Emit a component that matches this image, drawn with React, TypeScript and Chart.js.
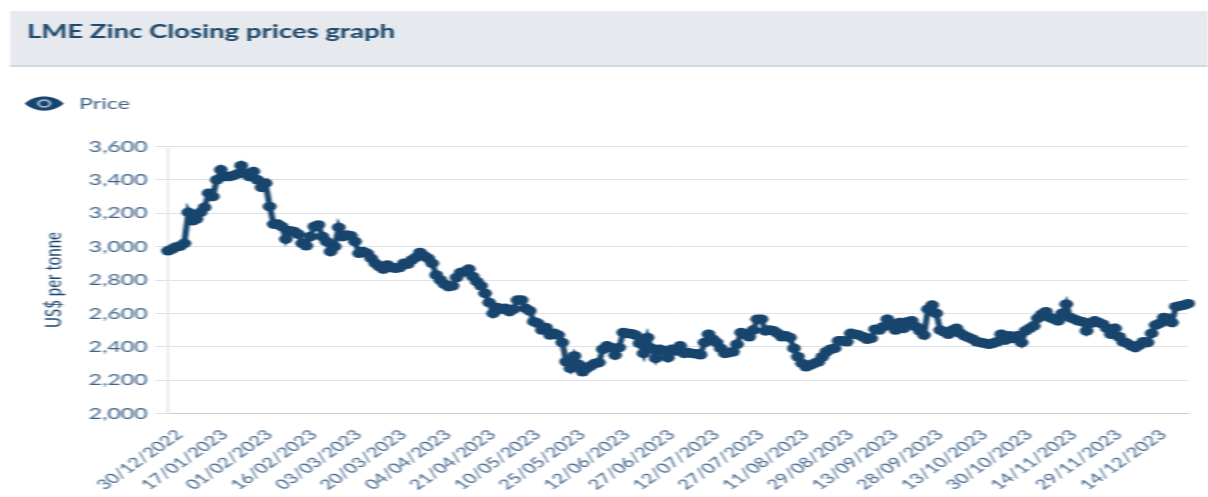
import React, { useEffect, useRef } from "react";
import { Chart, registerables } from "chart.js";

Chart.register(...registerables);

const chartTitle = "LME Zinc Closing prices graph";
const seriesName = "Price";
const yAxisTitle = "US$ per tonne";

const tickLabels = [
  "30/12/2022", "17/01/2023", "01/02/2023", "16/02/2023", "03/03/2023", "20/03/2023",
  "04/04/2023", "21/04/2023", "10/05/2023", "25/05/2023", "12/06/2023", "27/06/2023",
  "12/07/2023", "27/07/2023", "11/08/2023", "29/08/2023", "13/09/2023", "28/09/2023",
  "13/10/2023", "30/10/2023", "14/11/2023", "29/11/2023", "14/12/2023",
];

const prices = [
  2975, 2985, 2998, 3003, 3020, 3205, 3155, 3165, 3205, 3235,
  3320, 3300, 3400, 3460, 3420, 3420, 3425, 3435, 3485, 3440,
  3420, 3450, 3400, 3355, 3380, 3240, 3135, 3135, 3120, 3045,
  3095, 3090, 3075, 3020, 3005, 3060, 3120, 3130, 3060, 3030,
  2970, 3000, 3115, 3060, 3070, 3065, 3030, 2960, 2970, 2960,
  2930, 2900, 2880, 2865, 2890, 2875, 2870, 2875, 2900, 2895,
  2920, 2935, 2965, 2945, 2930, 2900, 2830, 2800, 2775, 2760,
  2765, 2815, 2845, 2850, 2865, 2820, 2790, 2765, 2720, 2665,
  2600, 2635, 2625, 2630, 2610, 2625, 2680, 2680, 2630, 2615,
  2550, 2540, 2500, 2515, 2470, 2480, 2470, 2425, 2310, 2270,
  2345, 2295, 2250, 2270, 2285, 2300, 2305, 2385, 2405, 2395,
  2350, 2395, 2485, 2480, 2478, 2470, 2420, 2360, 2455, 2390,
  2330, 2385, 2375, 2335, 2385, 2375, 2405, 2360, 2365, 2360,
  2358, 2352, 2425, 2475, 2445, 2425, 2390, 2360, 2365, 2370,
  2415, 2485, 2475, 2460, 2500, 2565, 2565, 2495, 2500, 2495,
  2480, 2460, 2465, 2455, 2390, 2340, 2300, 2280, 2290, 2300,
  2310, 2340, 2370, 2385, 2390, 2435, 2435, 2430, 2480, 2475,
  2470, 2460, 2445, 2450, 2505, 2500, 2520, 2565, 2530, 2500,
  2545, 2510, 2550, 2555, 2520, 2495, 2470, 2625, 2650, 2600,
  2500, 2490, 2475, 2500, 2510, 2480, 2465, 2455, 2445, 2430,
  2425, 2420, 2415, 2420, 2430, 2475, 2440, 2465, 2450, 2465,
  2425, 2495, 2510, 2525, 2570, 2595, 2610, 2575, 2565, 2555,
  2600, 2655, 2575, 2565, 2555, 2550, 2495, 2540, 2555, 2545,
  2535, 2510, 2475, 2510, 2460, 2430, 2420, 2405, 2395, 2410,
  2430, 2425, 2480, 2530, 2540, 2575, 2570, 2545, 2640, 2645,
  2650, 2658,
];

const TICK_EVERY = 11;
const categories = prices.map((_, i) => (i % TICK_EVERY === 0 ? tickLabels[i / TICK_EVERY] ?? "" : ""));

const STRETCH = 1208 / 833;
const NAVY = "#17456d";
const TICK_TEXT = "#3f6288";

export default function App() {
  const ref = useRef<HTMLCanvasElement | null>(null);

  useEffect(() => {
    const chart = new Chart(ref.current as HTMLCanvasElement, {
      type: "line",
      data: {
        labels: categories,
        datasets: [
          {
            label: seriesName,
            data: prices,
            borderColor: NAVY,
            backgroundColor: NAVY,
            borderWidth: 4.2,
            pointRadius: 4.8,
            pointBorderWidth: 0,
            tension: 0,
            clip: false,
          },
        ],
      },
      options: {
        animation: false,
        responsive: false,
        layout: { padding: { top: 146.5, right: 13.7, left: 0, bottom: 0 } },
        plugins: { legend: { display: false }, tooltip: { enabled: false } },
        scales: {
          x: {
            type: "category",
            afterFit: (s: any) => {
              s.height = 83.5;
              s.paddingLeft = 0;
              s.paddingRight = 0;
            },
            grid: { display: false, drawTicks: false },
            border: { display: true, color: "#c6ced8", width: 1 },
            ticks: {
              autoSkip: false,
              minRotation: 45,
              maxRotation: 45,
              padding: 13,
              labelOffset: 8,
              color: TICK_TEXT,
              font: { family: "Lato", size: 14 },
              callback: function (this: any, v: any) {
                return this.getLabelForValue(v);
              },
            },
          },
          y: {
            min: 2000,
            max: 3600,
            afterFit: (s: any) => {
              s.width = 115.85;
            },
            grid: { color: "#dbe2ea", lineWidth: 1, tickLength: 9, tickColor: "#dbe2ea" },
            border: { display: true, color: "#e4e6ea", width: 1.5 },
            ticks: {
              stepSize: 200,
              padding: 5,
              color: TICK_TEXT,
              font: { family: "Lato", size: 16 },
              callback: (v: any) => Number(v).toLocaleString("en-US"),
            },
            title: {
              display: true,
              text: yAxisTitle,
              color: NAVY,
              font: { family: "Lato", size: 15 },
              padding: { top: 28, bottom: 0 },
            },
          },
        },
      },
    } as any);
    return () => chart.destroy();
  }, []);

  return (
    <div style={{ position: "fixed", inset: 0, overflow: "hidden", background: "#fff" }}>
      <div
        style={{
          position: "absolute",
          left: 0,
          top: 0,
          width: 833,
          height: 497,
          transform: `scaleX(${STRETCH})`,
          transformOrigin: "0 0",
          filter: "blur(0.6px)",
          fontFamily: "Lato",
        }}
      >
        <div
          style={{
            position: "absolute",
            left: 7,
            top: 11,
            width: 826,
            height: 54,
            background: "#e6eaee",
            borderBottom: "2px solid #cfdae0",
          }}
        />
        <div
          style={{
            position: "absolute",
            left: 18.6,
            top: 19,
            fontSize: 19,
            lineHeight: "24px",
            fontWeight: 700,
            color: "#1d4a6d",
            whiteSpace: "nowrap",
          }}
        >
          {chartTitle}
        </div>
        <svg
          width="27"
          height="15"
          viewBox="0 0 27 15"
          style={{ position: "absolute", left: 17, top: 96 }}
        >
          <path d="M0 7.5 C7 -2 20 -2 27 7.5 C20 17 7 17 0 7.5 Z" fill={NAVY} />
          <ellipse cx="13.5" cy="7.5" rx="5" ry="4.2" fill="#9fb4c6" />
          <ellipse cx="13.5" cy="7.5" rx="3" ry="2.6" fill={NAVY} />
        </svg>
        <div
          style={{
            position: "absolute",
            left: 54.5,
            top: 93,
            fontSize: 16,
            lineHeight: "20px",
            color: "#3f6288",
          }}
        >
          {seriesName}
        </div>
        <canvas
          ref={ref}
          width={833}
          height={497}
          style={{ position: "absolute", left: 0, top: 0 }}
        />
      </div>
    </div>
  );
}
